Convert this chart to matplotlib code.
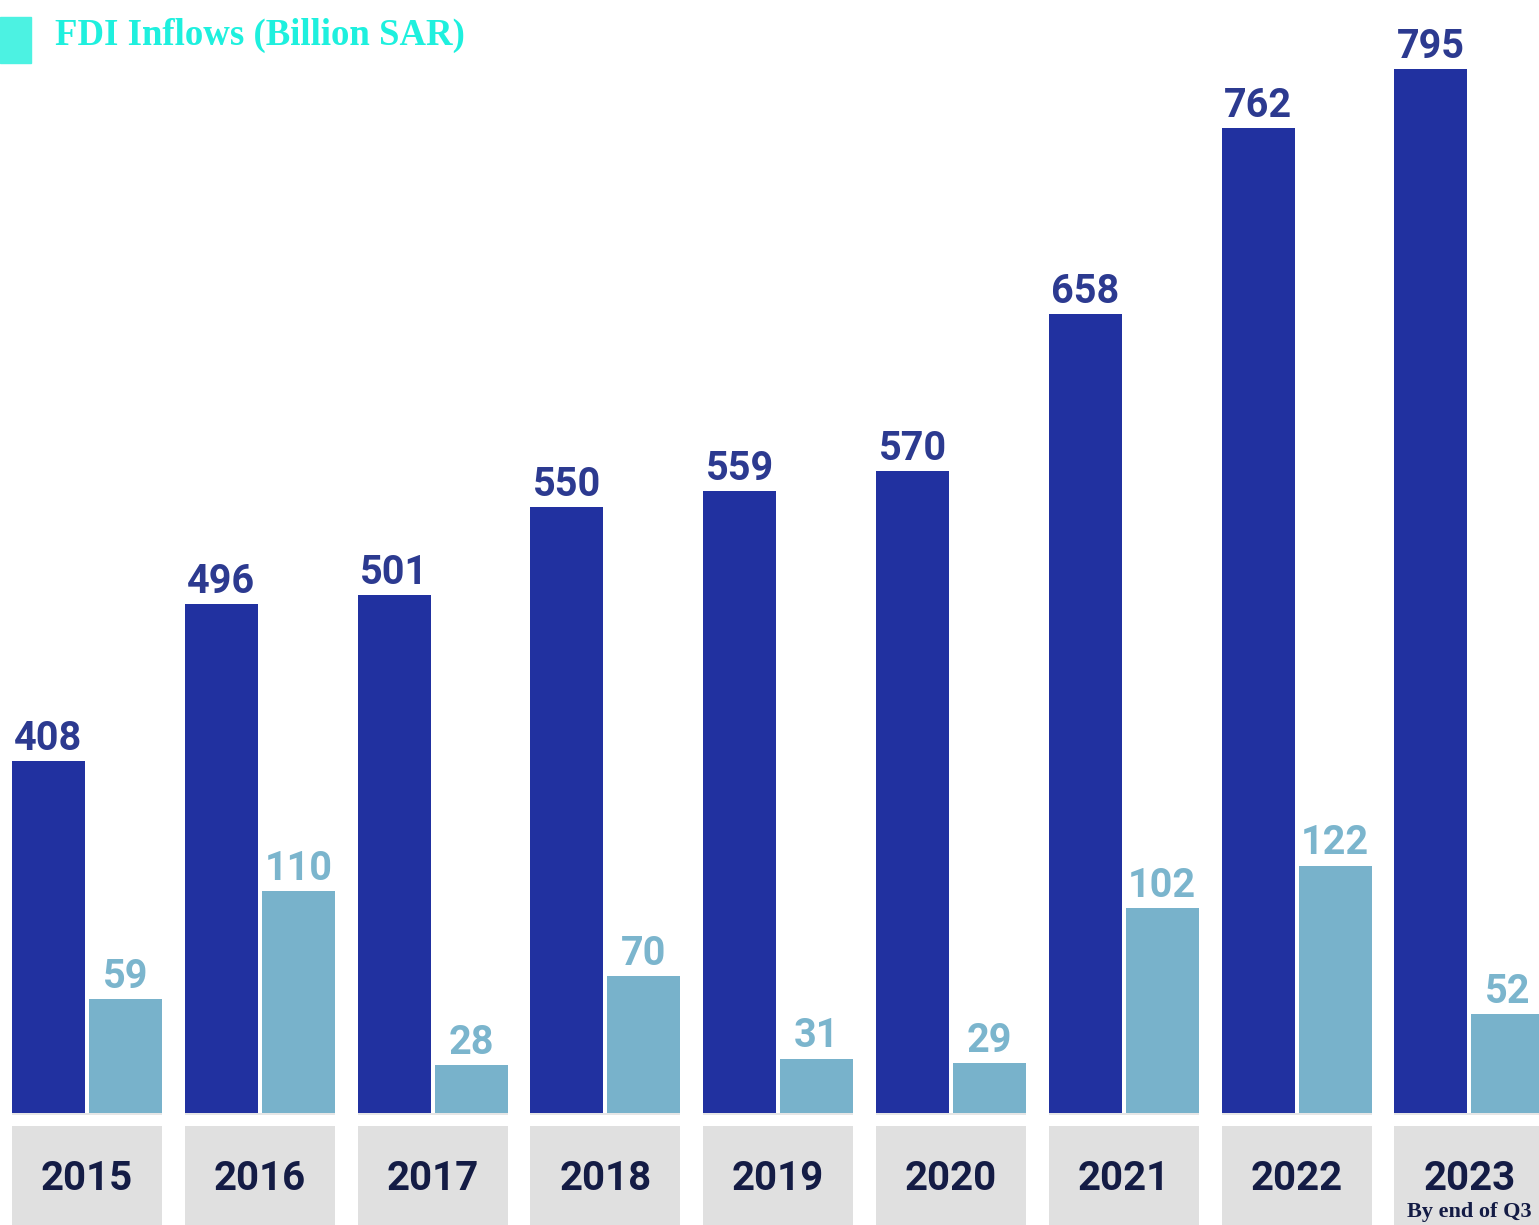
import matplotlib.pyplot as plt
from matplotlib.patches import Rectangle
import numpy as np

years = ['2015', '2016', '2017', '2018', '2019', '2020', '2021', '2022', '2023']
fdi_stock = [408, 496, 501, 550, 559, 570, 658, 762, 795]
fdi_inflows = [59, 110, 28, 70, 31, 29, 102, 122, 52]
title = 'FDI Inflows (Billion SAR)'
note_2023 = 'By end of Q3'

dark = '#2131a0'
light = '#78b2cb'
dark_txt = '#2c3a90'
light_txt = '#7bb5cd'
year_txt = '#141c45'
teal = '#1ef0de'

W, H = 1539, 1225
fig = plt.figure(figsize=(W / 100, H / 100), dpi=100)

# bars area (pixel 0..1113 from top), shared x in group units
base_px = 1113
ax = fig.add_axes([0, (H - base_px) / H, 1, base_px / H])
ax2 = ax.twinx()
x = np.arange(len(years))
pitch = 172.8
xl = (-87 / pitch, (W - 87) / pitch)
bw = 73 / pitch
off = 77 / 2 / pitch

# the original chart draws each series on its own (non zero) scale
ax.set_ylim(211, 211 + base_px / 1.787)
ax2.set_ylim(5.3, 5.3 + base_px / 2.12)
ax.bar(x - off, fdi_stock, width=bw, color=dark, zorder=2)
ax2.bar(x + off, fdi_inflows, width=bw, color=light, zorder=2)

for xi, v in zip(x, fdi_stock):
    ax.annotate(str(v), (xi - off, v), xytext=(0, 8), textcoords='offset points',
                ha='center', va='baseline', fontsize=28.5, fontweight='bold',
                color=dark_txt, family='Roboto')
for xi, v in zip(x, fdi_inflows):
    ax2.annotate(str(v), (xi + off, v), xytext=(0, 8), textcoords='offset points',
                 ha='center', va='baseline', fontsize=28.5, fontweight='bold',
                 color=light_txt, family='Roboto', annotation_clip=False)

for a in (ax, ax2):
    a.set_xlim(*xl)
    a.axis('off')

# year boxes below the bars
axb = fig.add_axes([0, 0, 1, (H - base_px) / H])
axb.set_xlim(*xl)
axb.set_ylim(0, 1)
axb.axis('off')
gw = 150 / pitch
axb.bar(x, 0.884, width=gw, color='#e0e0e0')
axb.bar(x, 0.02, bottom=0.98, width=gw, color='#e6e6e6')
for xi, yr in zip(x, years):
    axb.text(xi, 0.41, yr, ha='center', va='center', fontsize=29,
             fontweight='bold', color=year_txt, family='Roboto')
axb.text(x[-1], 0.075, note_2023, ha='center', va='baseline', fontsize=16,
         fontweight='bold', color=year_txt, family='Liberation Serif')

# title with teal square
fig.patches.append(Rectangle((0, 1 - 63 / H), 31 / W, 46 / H,
                             transform=fig.transFigure, color='#4cf2e2'))
fig.text(55 / W, 1 - 45 / H, title, ha='left', va='baseline', fontsize=26.5,
         fontweight='bold', color=teal, family='Liberation Serif')

fig.savefig('out.png', dpi=100)
